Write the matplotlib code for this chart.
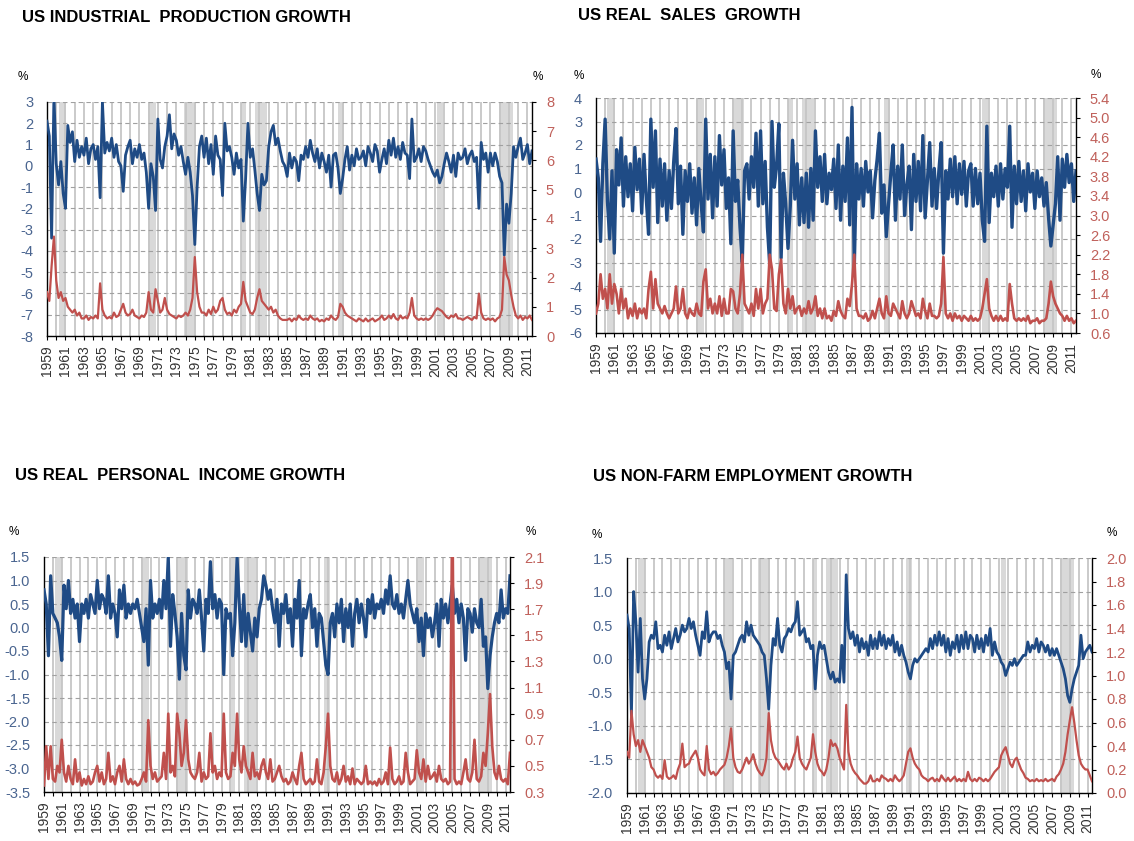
import numpy as np
import matplotlib
matplotlib.use('Agg')
import matplotlib.pyplot as plt
from matplotlib.ticker import FixedLocator, FormatStrFormatter

plt.rcParams['font.family'] = ['Liberation Sans', 'DejaVu Sans']

# ---------------- data (quarterly samples, starting 1959.0) ----------------
START_YEAR = 1959
RECESSIONS = [(1960.25, 1961.08), (1969.92, 1970.83), (1973.83, 1975.17),
              (1980.0, 1980.5), (1981.5, 1982.83), (1990.5, 1991.17),
              (2001.17, 2001.83), (2007.92, 2009.42)]

ip_growth = [
    2.1, 1.4, -3.4, 3.3,   0.1, -0.9, 0.2, -1.3,   -2.0, 1.9, 1.1, 1.6,   0.2, 1.2, 0.4, 0.9,
    0.5, 1.3, 0.1, 0.8,    1.0, 0.3, 0.9, -1.5,    3.0, 0.6, 1.1, 0.7,    1.3, 0.4, 1.0, 0.2,
    0.0, -1.2, 0.5, 0.9,   1.2, 0.1, 0.8, 0.4,     1.0, 0.3, 0.6, -0.3,   -2.0, 0.1, -0.5, -2.1,
    2.2, 0.3, -0.1, 0.9,   1.4, 2.4, 0.8, 1.5,     1.2, 0.5, 0.9, 0.2,    -0.4, 0.4, -0.3, -1.4,
    -3.7, -1.0, 0.9, 1.4,  0.4, 1.3, 0.1, 1.0,     -0.4, 1.4, 0.5, 0.3,   -1.4, 2.0, 0.7, 0.9,
    0.4, -0.4, 0.6, -0.1,  0.3, -2.6, -0.6, 2.0,   0.4, 0.8, -0.2, -1.3,  -2.1, -0.4, -0.9, -0.7,
    0.9, 1.6, 1.9, 1.0,    1.3, 0.7, 0.2, 0.0,     -0.5, 0.6, -0.1, 0.4,  0.2, -0.7, 0.5, 0.3,
    0.9, 0.4, 1.2, 0.6,    0.2, 0.8, -0.1, 0.6,    0.2, -0.3, 0.5, -1.0,  0.5, 0.6, -0.1, -1.3,
    -0.6, 0.3, 0.9, -0.2,  0.5, 0.0, 0.8, 0.3,     0.4, 0.7, 0.0, 0.9,    0.6, 0.2, 1.0, 0.7,
    -0.3, 0.3, 0.8, 0.1,   1.2, 0.5, 1.3, 0.4,     0.9, 0.3, 1.1, 0.6,    0.5, -0.6, 2.2, 0.2,
    0.4, 0.8, 0.2, 0.9,    0.7, 0.3, 0.0, -0.3,    -0.5, -0.2, -0.8, -0.5, 0.1, 0.6, 0.2, -0.3,
    0.5, -0.5, 0.6, 0.3,   0.4, 0.8, 0.1, 0.5,     0.7, 0.2, 0.4, -2.0,   1.1, 0.3, 0.6, -0.3,
    0.6, 0.0, 0.6, 0.2,    -0.5, -0.8, -4.2, -1.8, -2.7, -1.3, 0.9, 0.4,  0.9, 1.3, 0.3, 0.6,
    1.0, 0.1, 0.7]
ip_vol = [
    1.5, 1.2, 2.4, 3.4,    1.9, 1.3, 1.5, 1.2,     1.3, 1.0, 0.9, 0.8,    0.9, 0.7, 0.8, 0.6,
    0.6, 0.7, 0.55, 0.65,  0.6, 0.7, 0.6, 1.8,     0.9, 0.7, 0.6, 0.65,   0.6, 0.8, 0.65, 0.7,
    0.9, 1.1, 0.8, 0.7,    0.75, 0.9, 0.7, 0.65,   0.6, 0.7, 0.65, 0.8,   1.5, 0.9, 0.8, 1.6,
    1.2, 0.8, 0.9, 1.3,    0.9, 0.75, 0.7, 0.65,   0.6, 0.7, 0.65, 0.7,   0.8, 0.7, 0.9, 1.3,
    2.7, 1.5, 1.0, 0.8,    0.8, 0.7, 0.9, 0.75,    1.0, 0.8, 0.9, 1.2,    1.3, 0.9, 0.75, 0.8,
    0.7, 0.9, 0.8, 1.0,    1.1, 1.85, 1.2, 1.0,    0.8, 0.75, 0.9, 1.3,   1.6, 1.2, 1.1, 1.0,
    0.9, 1.0, 0.8, 0.9,    0.7, 0.6, 0.55, 0.55,   0.55, 0.6, 0.5, 0.6,   0.55, 0.7, 0.6, 0.55,
    0.6, 0.55, 0.7, 0.6,   0.55, 0.6, 0.5, 0.55,   0.5, 0.6, 0.55, 0.7,   0.6, 0.55, 0.65, 1.1,
    1.0, 0.8, 0.7, 0.65,   0.6, 0.55, 0.5, 0.6,    0.55, 0.5, 0.6, 0.5,   0.55, 0.6, 0.5, 0.55,
    0.6, 0.7, 0.55, 0.6,   0.7, 0.6, 0.75, 0.6,    0.55, 0.7, 0.6, 0.65,  0.6, 0.8, 1.3, 0.7,
    0.6, 0.55, 0.6, 0.55,  0.6, 0.55, 0.6, 0.7,    0.85, 0.95, 0.9, 0.85, 0.75, 0.65, 0.6, 0.7,
    0.65, 0.75, 0.6, 0.6,  0.55, 0.6, 0.65, 0.6,   0.55, 0.65, 0.6, 1.45, 0.8, 0.6, 0.55, 0.6,
    0.55, 0.6, 0.5, 0.6,   0.65, 0.9, 2.7, 2.1,    1.9, 1.4, 1.0, 0.7,    0.6, 0.7, 0.55, 0.65,
    0.6, 0.7, 0.55]

sales_growth = [
    1.4, 0.6, -2.1, 1.2,   3.1, -0.4, -2.0, 0.9,   -2.6, 1.8, 0.3, 2.3,   -0.6, 1.5, -0.2, 1.2,
    -0.8, 1.9, 0.1, 1.4,   -0.9, 1.6, -0.3, -1.8,  3.1, 0.2, 2.6, -1.3,   1.4, -0.6, 1.2, -1.2,
    0.9, -0.7, 1.3, 2.7,   -0.5, 1.1, -1.8, 0.9,   -0.4, 1.2, -0.9, 0.6,  -1.4, 1.0, -0.5, -1.7,
    3.1, -0.3, 1.6, -1.1,  1.5, -0.6, 2.4, 0.3,    1.8, -0.7, 0.6, -2.2,  2.6, -0.4, 0.5, -1.5,
    -3.0, 0.9, 1.2, -0.3,  1.5, 0.2, 2.5, -0.6,    2.6, -0.5, 1.3, -1.5,  -3.1, 3.0, 0.2, 1.1,
    2.9, -2.8, 0.8, -0.5,  -2.4, -0.6, 2.2, -0.3,  1.2, -1.4, 0.6, -1.3,  0.8, -1.5, 1.0, -1.2,
    2.6, 0.2, 1.5, -0.4,   1.6, -0.5, 0.8, 0.1,    1.4, -0.7, 2.0, -1.2,  1.1, -0.4, 2.3, -1.4,
    3.6, -3.2, 1.2, -0.3,  1.0, -0.6, 1.3, 0.0,    0.9, -1.1, 0.5, 1.4,   2.5, -0.9, 0.3, -1.9,
    -0.5, 0.8, 2.0, -1.2,  1.1, -0.3, 2.0, -1.0,   0.3, 1.1, -1.6, 1.6,   -0.4, 1.3, -0.8, 2.4,
    -1.1, 0.5, 2.1, -0.6,  1.0, -0.7, 0.9, 2.1,    -2.6, 0.9, -0.3, 1.4,  -0.2, 1.5, -0.5, 1.2,
    -0.1, 1.3, -0.6, 0.9,  1.2, -0.6, 1.0, -0.5,   0.8, -1.2, -2.1, 2.8,  -1.3, 0.8, -0.2, 1.1,
    -0.6, 1.2, -0.3, 1.0,  0.2, 2.8, -1.5, 1.1,    -0.5, 1.3, -0.4, 0.9,  -0.8, 1.2, 0.0, 0.8,
    -0.7, 0.9, -0.2, 0.6,  -0.6, 0.4, -1.1, -2.3,  -1.4, -0.5, 1.5, -1.2, 1.4, 0.2, 1.6, 0.4,
    1.2, -0.4, 0.9]
sales_vol = [
    1.0, 1.2, 1.8, 1.3,    1.5, 1.1, 1.8, 1.2,     1.6, 1.4, 1.0, 1.5,    1.1, 1.3, 0.9, 1.1,
    0.95, 1.2, 0.9, 1.1,   1.0, 1.1, 0.9, 1.5,     1.85, 1.1, 1.7, 1.2,   1.1, 1.0, 1.15, 1.0,
    0.9, 1.0, 1.1, 1.55,   1.0, 1.1, 1.5, 1.0,     0.9, 1.1, 1.0, 0.95,   1.2, 1.0, 0.95, 1.65,
    1.9, 1.1, 1.3, 1.0,    1.2, 1.0, 1.35, 0.95,   1.3, 1.0, 1.0, 1.5,    1.45, 1.1, 1.0, 1.4,
    2.2, 1.2, 1.1, 1.0,    1.2, 0.95, 1.5, 1.1,    1.5, 1.0, 1.2, 1.3,    2.2, 1.9, 1.1, 1.05,
    1.8, 2.1, 1.2, 1.0,    1.5, 1.1, 1.35, 1.0,    1.1, 1.15, 0.95, 1.1,  1.0, 1.25, 1.0, 1.1,
    1.35, 0.95, 1.1, 0.9,  1.1, 0.9, 0.95, 0.85,   1.05, 0.95, 1.25, 1.05, 0.95, 0.9, 1.3, 1.15,
    1.6, 2.2, 1.1, 0.95,   0.95, 0.9, 1.0, 0.85,   0.9, 1.05, 0.9, 1.1,   1.3, 1.0, 0.9, 1.35,
    1.0, 0.95, 1.2, 1.1,   1.0, 0.9, 1.25, 1.0,    0.9, 1.0, 1.25, 1.1,   0.95, 1.0, 0.9, 1.3,
    1.05, 0.9, 1.2, 0.95,  0.95, 0.9, 0.95, 1.2,   2.15, 1.0, 0.9, 1.0,   0.85, 1.0, 0.9, 0.95,
    0.85, 0.95, 0.9, 0.85, 0.95, 0.85, 0.9, 0.85,  0.9, 1.1, 1.4, 1.7,    1.1, 0.95, 0.85, 0.95,
    0.85, 0.95, 0.85, 0.9, 0.85, 1.6, 1.2, 0.9,    0.85, 0.9, 0.85, 0.9,  0.85, 0.95, 0.8, 0.85,
    0.85, 0.9, 0.8, 0.85,  0.85, 0.9, 1.2, 1.65,   1.35, 1.2, 1.1, 1.0,   0.95, 0.85, 0.95, 0.85,
    0.9, 0.8, 0.85]

income_growth = [
    0.8, 0.5, -0.6, 1.1,   0.3, 0.2, 0.1, -0.2,    -0.7, 0.9, 0.4, 1.0,   0.3, 0.6, 0.2, 0.5,
    -0.3, 0.5, 0.3, 0.6,   0.2, 0.7, 0.5, 0.3,     1.0, 0.4, 0.7, 0.6,    0.3, 1.1, 0.2, 0.5,
    0.3, -0.2, 0.8, 0.4,   0.9, 0.2, 0.5, 0.3,     0.5, 0.4, 0.6, 0.3,    0.0, -0.3, 0.4, -0.8,
    1.0, 0.2, 0.5, 0.3,    0.6, 0.2, 1.0, 0.4,     1.5, -0.4, 0.7, 0.3,   -0.2, -1.1, 0.3, -0.6,
    -0.9, 0.8, 0.2, 0.6,   0.5, 0.3, 0.8, 0.2,     -0.5, 0.6, 0.3, 1.4,   0.4, 0.7, 0.2, 0.6,
    0.5, -1.0, 0.4, 0.2,   0.3, -0.6, 0.1, 1.5,    0.5, -0.3, 0.7, -0.4,  0.3, -0.1, -0.5, 0.2,
    -0.2, 0.4, 0.6, 1.1,   0.9, 0.6, 0.8, 0.4,     0.1, 0.6, -0.4, 0.5,   0.3, 0.7, 0.1, 0.4,
    -0.4, 0.6, 0.2, 1.0,   -0.6, 0.4, 0.2, 0.5,    0.7, 0.0, 0.4, -0.4,   0.3, 0.2, -0.3, -0.8,
    -1.0, 0.1, 0.3, -0.2,  0.5, 0.1, 0.6, -0.3,    0.4, 0.0, 0.5, -0.4,   0.3, 0.6, 0.1, 0.5,
    0.2, -0.2, 0.6, 0.3,   0.7, 0.2, 0.5, 0.4,     0.6, 0.3, 0.8, 0.5,    1.1, 0.5, 0.4, 0.7,
    0.3, 0.5, 0.2, 0.6,    1.0, 0.5, 0.3, 0.1,     0.4, -0.3, 0.2, -0.6,  0.3, 0.0, 0.2, -0.2,
    0.1, 0.5, -0.4, 0.6,   0.2, 0.5, 0.1, 0.5,     0.9, 0.3, 0.6, 0.1,    0.5, 0.2, -0.7, 0.4,
    0.3, -0.1, 0.4, 0.1,   0.0, 0.6, -0.4, -0.2,   -1.3, -0.6, -0.2, 0.1, 0.3, 0.1, 0.8, 0.2,
    0.4, 0.3, 1.1]
income_vol = [
    0.35, 0.65, 0.4, 0.65, 0.4, 0.38, 0.5, 0.45,   0.7, 0.45, 0.38, 0.5,  0.4, 0.36, 0.55, 0.38,
    0.45, 0.35, 0.4, 0.36, 0.42, 0.36, 0.38, 0.45, 0.5, 0.38, 0.45, 0.36, 0.4, 0.6, 0.38, 0.42,
    0.36, 0.45, 0.5, 0.38, 0.55, 0.4, 0.36, 0.4,   0.36, 0.38, 0.35, 0.36, 0.4, 0.45, 0.38, 0.85,
    0.5, 0.4, 0.45, 0.38,  0.4, 0.42, 0.6, 0.4,    0.9, 0.45, 0.5, 0.42,  0.9, 0.75, 0.5, 0.6,
    0.85, 0.55, 0.45, 0.42, 0.4, 0.45, 0.6, 0.38,  0.45, 0.4, 0.42, 0.75, 0.45, 0.5, 0.4, 0.45,
    0.42, 0.9, 0.45, 0.4,  0.42, 0.6, 0.5, 0.9,    0.55, 0.45, 0.65, 0.5, 0.45, 0.4, 0.6, 0.42,
    0.45, 0.4, 0.5, 0.55,  0.45, 0.4, 0.55, 0.38,  0.4, 0.45, 0.5, 0.42,  0.38, 0.4, 0.36, 0.38,
    0.45, 0.4, 0.36, 0.5,  0.6, 0.4, 0.36, 0.38,   0.4, 0.36, 0.38, 0.55, 0.38, 0.36, 0.45, 0.65,
    0.9, 0.5, 0.4, 0.38,   0.45, 0.36, 0.4, 0.5,   0.38, 0.42, 0.36, 0.48, 0.36, 0.4, 0.38, 0.36,
    0.38, 0.5, 0.36, 0.38, 0.36, 0.38, 0.35, 0.4,  0.36, 0.38, 0.45, 0.36, 0.64, 0.4, 0.36, 0.38,
    0.42, 0.36, 0.38, 0.6, 0.45, 0.36, 0.38, 0.4,  0.62, 0.45, 0.4, 0.55, 0.38, 0.5, 0.4, 0.42,
    0.45, 0.38, 0.5, 0.4,  0.38, 0.4, 0.36, 0.38,  2.6, 0.4, 0.36, 0.38,  0.36, 0.45, 0.55, 0.4,
    0.38, 0.45, 0.7, 0.4,  0.38, 0.42, 0.6, 0.5,   0.75, 1.05, 0.65, 0.45, 0.4, 0.5, 0.4, 0.38,
    0.4, 0.36, 0.6]

emp_growth = [
    0.65, 0.45, -0.85, 1.0, 0.55, -0.2, 0.6, -0.3, -0.6, -0.3, 0.25, 0.35, 0.3, 0.55, 0.15, 0.2,
    0.1, 0.35, 0.2, 0.4,   0.15, 0.3, 0.45, 0.25,  0.35, 0.5, 0.4, 0.45,  0.6, 0.45, 0.55, 0.35,
    0.2, 0.05, 0.4, 0.3,   0.7, 0.25, 0.35, 0.4,   0.4, 0.3, 0.35, 0.2,   0.1, -0.15, -0.05, -0.6,
    0.05, 0.1, 0.2, 0.3,   0.35, 0.25, 0.55, 0.35, 0.5, 0.35, 0.3, 0.25,  0.2, 0.1, 0.05, -0.3,
    -0.75, -0.1, 0.3, 0.2, 0.6, 0.2, 0.1, 0.3,     0.35, 0.45, 0.4, 0.5,  0.55, 0.85, 0.35, 0.4,
    0.45, 0.25, 0.3, 0.15, 0.2, -0.45, 0.05, 0.25, 0.15, 0.2, 0.0, -0.2,  -0.3, -0.2, -0.35, -0.3,
    -0.35, 0.2, -0.35, 1.25, 0.45, 0.3, 0.4, 0.2,  0.35, 0.1, 0.3, 0.15,  0.25, 0.05, 0.35, 0.15,
    0.3, 0.15, 0.4, 0.2,   0.35, 0.15, 0.3, 0.2,   0.35, 0.1, 0.25, 0.05, 0.2, 0.05, -0.05, -0.2,
    -0.3, -0.1, 0.0, -0.05, 0.0, 0.05, 0.1, 0.15,  0.1, 0.3, 0.15, 0.35,  0.2, 0.4, 0.2, 0.35,
    0.1, 0.3, 0.05, 0.25,  0.15, 0.35, 0.1, 0.35,  0.15, 0.4, 0.15, 0.35, 0.3, 0.1, 0.35, 0.15,
    0.3, 0.1, 0.35, 0.2,   0.45, 0.05, 0.25, 0.1,  0.05, -0.05, -0.1, -0.25, -0.15, -0.05, -0.1, 0.0,
    -0.1, -0.05, 0.0, 0.05, 0.05, 0.25, 0.1, 0.2,  0.15, 0.3, 0.1, 0.25,  0.2, 0.1, 0.2, 0.05,
    0.15, 0.05, 0.15, 0.05, -0.05, -0.15, -0.3, -0.55, -0.65, -0.45, -0.3, -0.2, -0.1, 0.35, 0.0, 0.1,
    0.15, 0.2, 0.1]
emp_vol = [
    0.35, 0.3, 0.7, 0.5,   0.4, 0.45, 0.35, 0.45,  0.4, 0.35, 0.3, 0.22,  0.2, 0.15, 0.13, 0.15,
    0.12, 0.28, 0.14, 0.12, 0.13, 0.15, 0.12, 0.2, 0.25, 0.42, 0.22, 0.24, 0.25, 0.3, 0.33, 0.36,
    0.3, 0.2, 0.17, 0.15,  0.4, 0.2, 0.16, 0.18,   0.15, 0.17, 0.2, 0.22, 0.24, 0.3, 0.4, 0.55,
    0.3, 0.22, 0.18, 0.17, 0.2, 0.25, 0.3, 0.25,   0.28, 0.33, 0.25, 0.2, 0.17, 0.15, 0.2, 0.3,
    0.68, 0.45, 0.35, 0.3, 0.28, 0.25, 0.22, 0.2,  0.25, 0.2, 0.23, 0.3,  0.35, 0.48, 0.3, 0.25,
    0.22, 0.2, 0.25, 0.3,  0.5, 0.35, 0.25, 0.2,   0.18, 0.15, 0.2, 0.3,  0.45, 0.4, 0.42, 0.38,
    0.3, 0.25, 0.2, 0.75,  0.35, 0.25, 0.2, 0.17,  0.15, 0.12, 0.1, 0.08, 0.08, 0.1, 0.15, 0.1,
    0.1, 0.12, 0.1, 0.15,  0.13, 0.12, 0.1, 0.12,  0.1, 0.15, 0.12, 0.1,  0.12, 0.15, 0.25, 0.35,
    0.38, 0.3, 0.25, 0.22, 0.2, 0.15, 0.13, 0.12,  0.1, 0.12, 0.13, 0.1,  0.12, 0.1, 0.15, 0.12,
    0.1, 0.13, 0.1, 0.12,  0.14, 0.1, 0.12, 0.1,   0.12, 0.1, 0.18, 0.12, 0.1, 0.12, 0.1, 0.13,
    0.12, 0.1, 0.12, 0.1,  0.12, 0.15, 0.18, 0.2,  0.22, 0.32, 0.36, 0.39, 0.32, 0.25, 0.22, 0.28,
    0.3, 0.25, 0.2, 0.17,  0.13, 0.12, 0.1, 0.11,  0.1, 0.12, 0.1, 0.11,  0.1, 0.12, 0.1, 0.11,
    0.12, 0.1, 0.14, 0.16, 0.2, 0.25, 0.35, 0.5,   0.62, 0.73, 0.6, 0.45, 0.32, 0.25, 0.22, 0.2,
    0.2, 0.15, 0.1]

# ---------------- figure ----------------
W, H = 1134, 841
fig = plt.figure(figsize=(W / 100, H / 100), dpi=100)
fig.patch.set_facecolor('white')

BLUE = '#1f4b85'
RED = '#c0504d'
LBL_BLUE = '#4a6590'
LBL_RED = '#c0605a'


def rect(l, t, r, b):
    return [l / W, 1 - b / H, (r - l) / W, (b - t) / H]


def ftext(x, y, s, **kw):
    fig.text(x / W, 1 - y / H, s, va='center', **kw)


panels = [
    dict(title='US INDUSTRIAL  PRODUCTION GROWTH', tpos=(22, 18), box=(47, 102, 532, 336),
         left=(-8, 3, np.arange(-8, 3.01, 1), '%d'), right=(0, 8, np.arange(0, 8.01, 1), '%d'),
         blue=ip_growth, red=ip_vol, pl=(23, 77), pr=(538, 77), blw=2.0, rlw=1.6),
    dict(title='US REAL  SALES  GROWTH', tpos=(578, 15), box=(596, 98, 1076, 333),
         left=(-6, 4, np.arange(-6, 4.01, 1), '%d'), right=(0.6, 5.4, np.arange(0.6, 5.41, 0.4), '%.1f'),
         blue=sales_growth, red=sales_vol, pl=(579, 76), pr=(1096, 75), blw=2.4, rlw=1.9),
    dict(title='US REAL  PERSONAL  INCOME GROWTH', tpos=(15, 475), box=(44, 557, 510, 792),
         left=(-3.5, 1.5, np.arange(-3.5, 1.51, 0.5), '%.1f'), right=(0.3, 2.1, np.arange(0.3, 2.11, 0.2), '%.1f'),
         blue=income_growth, red=income_vol, pl=(14, 532), pr=(531, 532), blw=2.3, rlw=1.9),
    dict(title='US NON-FARM EMPLOYMENT GROWTH', tpos=(593, 476), box=(627, 558, 1092, 793),
         left=(-2.0, 1.5, np.arange(-2.0, 1.51, 0.5), '%.1f'), right=(0.0, 2.0, np.arange(0.0, 2.01, 0.2), '%.1f'),
         blue=emp_growth, red=emp_vol, pl=(597, 535), pr=(1112, 533), blw=2.0, rlw=1.6),
]

for p in panels:
    ax = fig.add_axes(rect(*p['box']))
    ax.set_xlim(1959, 2011.5)
    for s, e in RECESSIONS:
        ax.axvspan(s, e, color='#d9d9d9', lw=0, zorder=0)
    ax.xaxis.set_major_locator(FixedLocator(list(range(1959, 2012, 2))))
    ax.xaxis.set_minor_locator(FixedLocator(list(range(1960, 2012, 2))))
    ax.set_xticklabels([str(y) for y in range(1959, 2012, 2)], rotation=90)
    ax.grid(axis='x', which='both', color='#c6c6c6', lw=1.3, ls='-')
    ax.grid(axis='y', which='major', color='#a0a0a0', lw=0.8, ls=(0, (4, 3)))
    ax.set_axisbelow(True)

    lo, hi, ticks, fmt = p['left']
    ax.set_ylim(lo, hi)
    ax.set_yticks(ticks)
    ax.yaxis.set_major_formatter(FormatStrFormatter(fmt))

    xb = START_YEAR + np.arange(len(p['blue'])) / 4.0
    ax.plot(xb, p['blue'], color=BLUE, lw=p['blw'], zorder=3)

    ax.tick_params(axis='x', which='both', direction='out', length=3, width=0.8,
                   labelsize=10, labelcolor='#333333', pad=4)
    ax.tick_params(axis='y', direction='in', length=0, labelsize=10.5,
                   labelcolor=LBL_BLUE, pad=10)
    for sp in ('top', 'right'):
        ax.spines[sp].set_visible(False)
    for sp in ('left', 'bottom'):
        ax.spines[sp].set_color('black')
        ax.spines[sp].set_linewidth(1.0)

    ax2 = ax.twinx()
    rlo, rhi, rticks, rfmt = p['right']
    ax2.set_ylim(rlo, rhi)
    ax2.set_yticks(rticks)
    ax2.yaxis.set_major_formatter(FormatStrFormatter(rfmt))
    xr = START_YEAR + np.arange(len(p['red'])) / 4.0
    ax2.plot(xr, p['red'], color=RED, lw=p['rlw'], zorder=3)
    ax2.tick_params(axis='y', direction='out', length=3, width=0.8, labelsize=10.5,
                    labelcolor=LBL_RED, pad=7)
    ax2.spines['top'].set_visible(False)
    ax2.spines['left'].set_visible(False)
    ax2.spines['bottom'].set_visible(False)
    ax2.spines['right'].set_color('black')
    ax2.spines['right'].set_linewidth(1.0)

    ftext(p['tpos'][0], p['tpos'][1], p['title'], ha='left', fontsize=12,
          fontweight='bold', color='black')
    ftext(p['pl'][0], p['pl'][1], '%', ha='center', fontsize=8.5, color='black')
    ftext(p['pr'][0], p['pr'][1], '%', ha='center', fontsize=8.5, color='black')

fig.savefig('out.png', dpi=100, facecolor='white')
